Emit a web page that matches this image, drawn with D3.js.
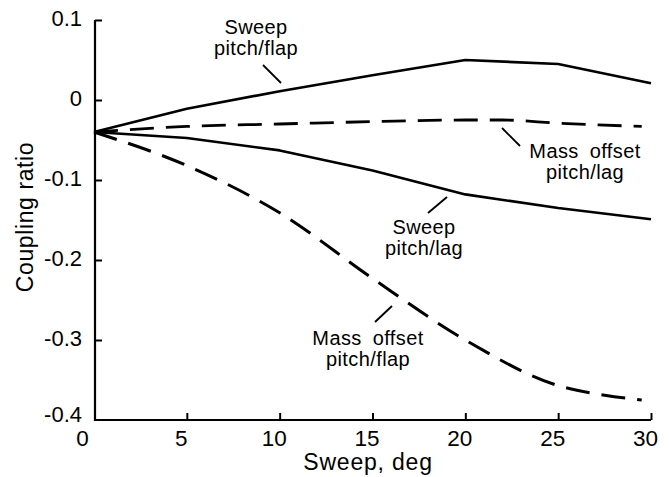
<!DOCTYPE html>
<html>
<head>
<meta charset="utf-8">
<script src="https://cdn.jsdelivr.net/npm/d3@7"></script>
<style>
html,body{margin:0;padding:0;background:#fff;}
svg{display:block;}
text{font-family:"Liberation Sans",Arial,Helvetica,sans-serif;fill:#000;}
</style>
</head>
<body>
<svg id="chart" width="669" height="477"></svg>
<script>
// ---- data ----
const xTicks = [0, 5, 10, 15, 20, 25, 30];
const yTicks = [0.1, 0, -0.1, -0.2, -0.3, -0.4];
const yTickLabels = ["0.1", "0", "-0.1", "-0.2", "-0.3", "-0.4"];

const sweepPitchFlapX = [0, 5, 10, 15, 20, 25, 30];
const sweepPitchFlapY = [-0.04, -0.011, 0.011, 0.031, 0.050, 0.045, 0.021];

const sweepPitchLagX = [0, 5, 10, 15, 20, 25, 30];
const sweepPitchLagY = [-0.04, -0.0475, -0.063, -0.088, -0.118, -0.135, -0.149];

const massPitchLagX = [0, 5, 10, 15, 20, 22, 25, 29.5];
const massPitchLagY = [-0.04, -0.033, -0.030, -0.027, -0.025, -0.025, -0.029, -0.033];

const massPitchFlapX = [0, 5, 10, 15, 20, 25, 27.5, 29.5];
const massPitchFlapY = [-0.04, -0.082, -0.141, -0.223, -0.300, -0.357, -0.369, -0.375];

const xTitle = "Sweep, deg";
const yTitle = "Coupling ratio";

// ---- chart ----
const svg = d3.select("#chart");
const x = d3.scaleLinear().domain([0, 30]).range([94, 651]);
const y = d3.scaleLinear().domain([-0.4, 0.1]).range([420, 20]);
const FONT = '"Liberation Sans",Arial,sans-serif';

// axes
const xAxis = d3.axisBottom(x).tickValues(xTicks).tickSizeInner(-7).tickSizeOuter(0).tickPadding(10).tickFormat(d3.format("d"));
const gx = svg.append("g").attr("transform", `translate(0,${y(-0.4)})`).call(xAxis);
gx.select(".domain").attr("stroke", "#000").attr("stroke-width", 2.2).attr("d", `M${x(0)},0H${x(30)}`);
gx.selectAll(".tick line").attr("stroke", "#000").attr("stroke-width", 2);
gx.selectAll(".tick text").attr("font-size", 22.5).attr("dx", -6).attr("font-family", FONT);
gx.selectAll(".tick").filter(d => d === 0).select("text").attr("dx", -12);
gx.selectAll(".tick").filter(d => d === 0).select("line").remove();

const yAxis = d3.axisLeft(y).tickValues(yTicks).tickSizeInner(-7).tickSizeOuter(0).tickPadding(13)
  .tickFormat((d, i) => yTickLabels[i]);
const gy = svg.append("g").attr("transform", `translate(${x(0) + 1},0)`).call(yAxis);
gy.select(".domain").attr("stroke", "#000").attr("stroke-width", 2.2).attr("d", `M0,${y(0.1)}V${y(-0.4) + 1}`);
gy.selectAll(".tick line").attr("stroke", "#000").attr("stroke-width", 2);
gy.selectAll(".tick text").attr("font-size", 22).attr("font-family", FONT).attr("dy", "0.26em");
const bottomTick = gy.selectAll(".tick").filter(d => d === -0.4);
bottomTick.select("line").remove();
bottomTick.select("text").attr("dy", "0.05em");

// titles
svg.append("text").attr("x", 368).attr("y", 470).attr("text-anchor", "middle")
  .attr("font-size", 23).attr("letter-spacing", 0.8).text(xTitle);
svg.append("text").attr("transform", `translate(33,217) rotate(-90)`).attr("text-anchor", "middle")
  .attr("font-size", 23).attr("letter-spacing", 0.6).text(yTitle);

// series
const series = [
  {xs: sweepPitchFlapX, ys: sweepPitchFlapY, dash: null, curve: d3.curveLinear, w: 2.6},
  {xs: sweepPitchLagX, ys: sweepPitchLagY, dash: null, curve: d3.curveLinear, w: 2.6},
  {xs: massPitchLagX, ys: massPitchLagY, dash: "24,12", curve: d3.curveMonotoneX, w: 2.8},
  {xs: massPitchFlapX, ys: massPitchFlapY, dash: "24,12", curve: d3.curveMonotoneX, w: 3}
];
series.forEach(s => {
  const pts = s.xs.map((v, i) => [v, s.ys[i]]);
  const line = d3.line().x(d => x(d[0])).y(d => y(d[1])).curve(s.curve);
  svg.append("path").attr("d", line(pts)).attr("fill", "none").attr("stroke", "#000")
    .attr("stroke-width", s.w).attr("stroke-dasharray", s.dash)
    .attr("stroke-linejoin", "round");
});

// annotations
const labels = [
  {lines: ["Sweep", "pitch/flap"], cx: 256, y0: 34, leader: [[263, 65], [281, 83]]},
  {lines: ["Mass offset", "pitch/lag"], cx: 585, y0: 158, leader: [[502, 128], [520, 146]]},
  {lines: ["Sweep", "pitch/lag"], cx: 424, y0: 234, leader: [[447, 197], [428, 213]]},
  {lines: ["Mass offset", "pitch/flap"], cx: 368, y0: 345, leader: [[392, 306], [375, 322]]}
];
labels.forEach(l => {
  const t = svg.append("text").attr("text-anchor", "middle").attr("font-size", 20)
    .attr("word-spacing", 5).attr("letter-spacing", 0.4);
  l.lines.forEach((s, i) => {
    t.append("tspan").attr("x", l.cx).attr("y", l.y0 + i * 21).text(s);
  });
  svg.append("line").attr("x1", l.leader[0][0]).attr("y1", l.leader[0][1])
    .attr("x2", l.leader[1][0]).attr("y2", l.leader[1][1])
    .attr("stroke", "#000").attr("stroke-width", 1.8);
});
</script>
</body>
</html>
